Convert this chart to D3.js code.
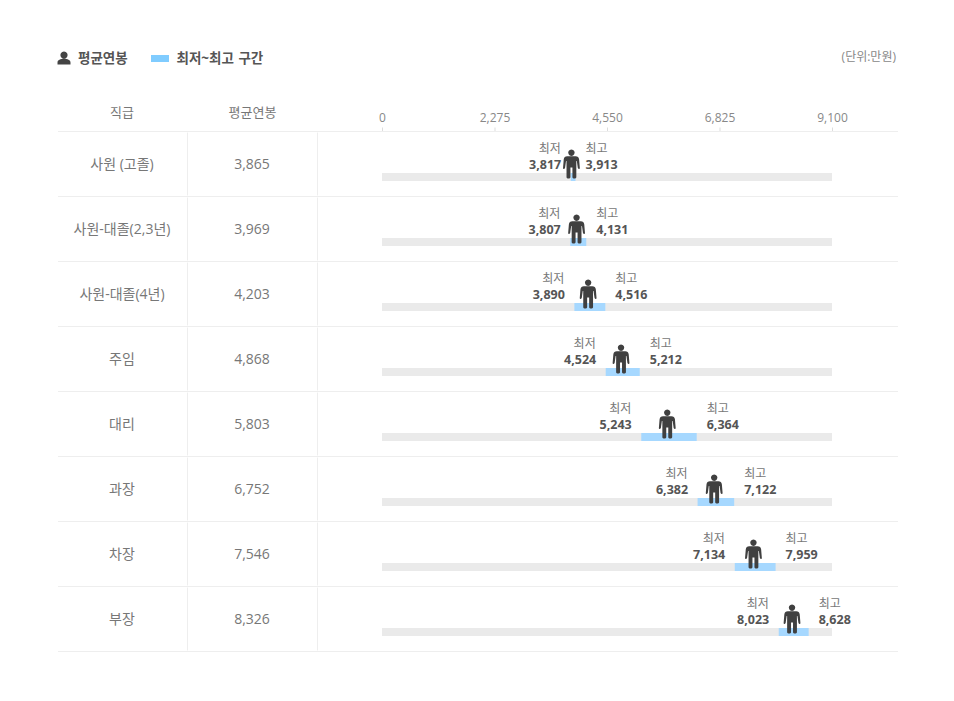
<!DOCTYPE html>
<html><head><meta charset="utf-8">
<script src="https://cdn.jsdelivr.net/npm/d3@7"></script>
<style>html,body{margin:0;padding:0;background:#fff}svg{display:block}
text{font-family:"Open Sans","Noto Sans CJK KR",sans-serif}</style></head>
<body><svg id="c" width="954" height="701"></svg>
<script>
const grades=["사원 (고졸)","사원-대졸(2,3년","사원-대졸(4년)","주임","대리","과장","차장","부장"];
grades[1]="사원-대졸(2,3년)";
const avgPay=[3865,3969,4203,4868,5803,6752,7546,8326];
const minPay=[3817,3807,3890,4524,5243,6382,7134,8023];
const maxPay=[3913,4131,4516,5212,6364,7122,7959,8628];
const ticks=[0,2275,4550,6825,9100];
const svg=d3.select("#c");
const fmt=d3.format(",");
const x=d3.scaleLinear().domain([0,9100]).range([382,832]);
const y=d3.scaleBand().domain(d3.range(grades.length)).range([131.5,651.5]);
const line="#eeeeee",grey="#777",dark="#555";
// person path, centred on 0, feet at 0, height 29
const person="M0,-29a3.2,3.2 0 1 1 -0.01,0Z M-4.2,-22.2H4.2C6.2,-22.2 7.4,-21 7.7,-19L8.4,-10.6C8.5,-9.4 6.6,-9.2 6.4,-10.4L5.4,-17.6H4.9V-1.2C4.9,0.4 1.0,0.4 1.0,-1.2V-11H-1.0V-1.2C-1.0,0.4 -4.9,0.4 -4.9,-1.2V-17.6H-5.4L-6.4,-10.4C-6.6,-9.2 -8.5,-9.4 -8.4,-10.6L-7.7,-19C-7.4,-21 -6.2,-22.2 -4.2,-22.2Z";
// legend
const lg=svg.append("g");
lg.append("path").attr("fill","#444").attr("d","M64,51.5a3.6,3.6 0 1 1 -0.01,0Z M57.5,64.5V62.5C57.5,60 60.5,58.8 64,58.8C67.5,58.8 70.5,60 70.5,62.5V64.5Z");
lg.append("text").attr("x",78).attr("y",62.5).attr("font-size",13.5).attr("font-weight",700).attr("fill",dark).text("평균연봉");
lg.append("rect").attr("x",151).attr("y",55).attr("width",18).attr("height",7).attr("fill","#80ccff");
lg.append("text").attr("x",176.5).attr("y",62.5).attr("font-size",13.5).attr("font-weight",700).attr("fill",dark).attr("word-spacing",1).text("최저~최고 구간");
svg.append("text").attr("x",896).attr("y",61).attr("text-anchor","end").attr("font-size",12).attr("fill","#888").text("(단위:만원)");
// header
svg.append("text").attr("x",122).attr("y",117).attr("text-anchor","middle").attr("font-size",13).attr("fill",grey).text("직급");
svg.append("text").attr("x",252.5).attr("y",117).attr("text-anchor","middle").attr("font-size",13).attr("fill",grey).text("평균연봉");
const ax=svg.append("g").attr("transform","translate(0,131.5)").call(d3.axisTop(x).tickValues(ticks).tickFormat(fmt).tickSize(4).tickPadding(6));
ax.select(".domain").remove();
ax.selectAll(".tick line").attr("stroke","#ddd");
ax.selectAll(".tick text").attr("font-size",12).attr("fill","#888").attr("font-family",'"Open Sans",sans-serif');
// rule lines
svg.append("g").selectAll("line").data(d3.range(grades.length+1)).join("line")
 .attr("x1",58).attr("x2",898).attr("y1",i=>131.5+i*y.bandwidth()).attr("y2",i=>131.5+i*y.bandwidth()).attr("stroke",line);
// rows
const rows=svg.append("g").selectAll("g").data(grades).join("g").attr("transform",(d,i)=>`translate(0,${y(i)})`);
[187.5,317.5].forEach(px=>rows.append("line").attr("x1",px).attr("x2",px).attr("y1",1).attr("y2",y.bandwidth()-1).attr("stroke",line));
rows.append("text").attr("x",122).attr("y",37).attr("text-anchor","middle").attr("font-size",14).attr("fill",grey).text(d=>d);
rows.append("text").attr("x",252).attr("y",37.5).attr("text-anchor","middle").attr("font-size",14).attr("fill",grey).text((d,i)=>fmt(avgPay[i]));
rows.append("rect").attr("x",x(0)).attr("y",41.5).attr("width",x(9100)-x(0)).attr("height",8).attr("fill","#eaeaea");
rows.append("rect").attr("x",(d,i)=>x(minPay[i])).attr("y",41.5).attr("width",(d,i)=>x(maxPay[i])-x(minPay[i])).attr("height",8).attr("fill","#a6d8ff");
rows.append("path").attr("d",person).attr("fill","#404040").attr("transform",(d,i)=>`translate(${x(avgPay[i])-1.7},47)`);
rows.append("text").attr("x",(d,i)=>x(minPay[i])-10).attr("y",21).attr("text-anchor","end").attr("font-size",12).attr("fill",grey).text("최저");
rows.append("text").attr("x",(d,i)=>x(minPay[i])-9.5).attr("y",37).attr("text-anchor","end").attr("font-size",12.5).attr("font-weight",700).attr("fill",dark).text((d,i)=>fmt(minPay[i]));
rows.append("text").attr("x",(d,i)=>x(maxPay[i])+10).attr("y",21).attr("font-size",12).attr("fill",grey).text("최고");
rows.append("text").attr("x",(d,i)=>x(maxPay[i])+10).attr("y",37).attr("font-size",12.5).attr("font-weight",700).attr("fill",dark).text((d,i)=>fmt(maxPay[i]));
</script></body></html>
